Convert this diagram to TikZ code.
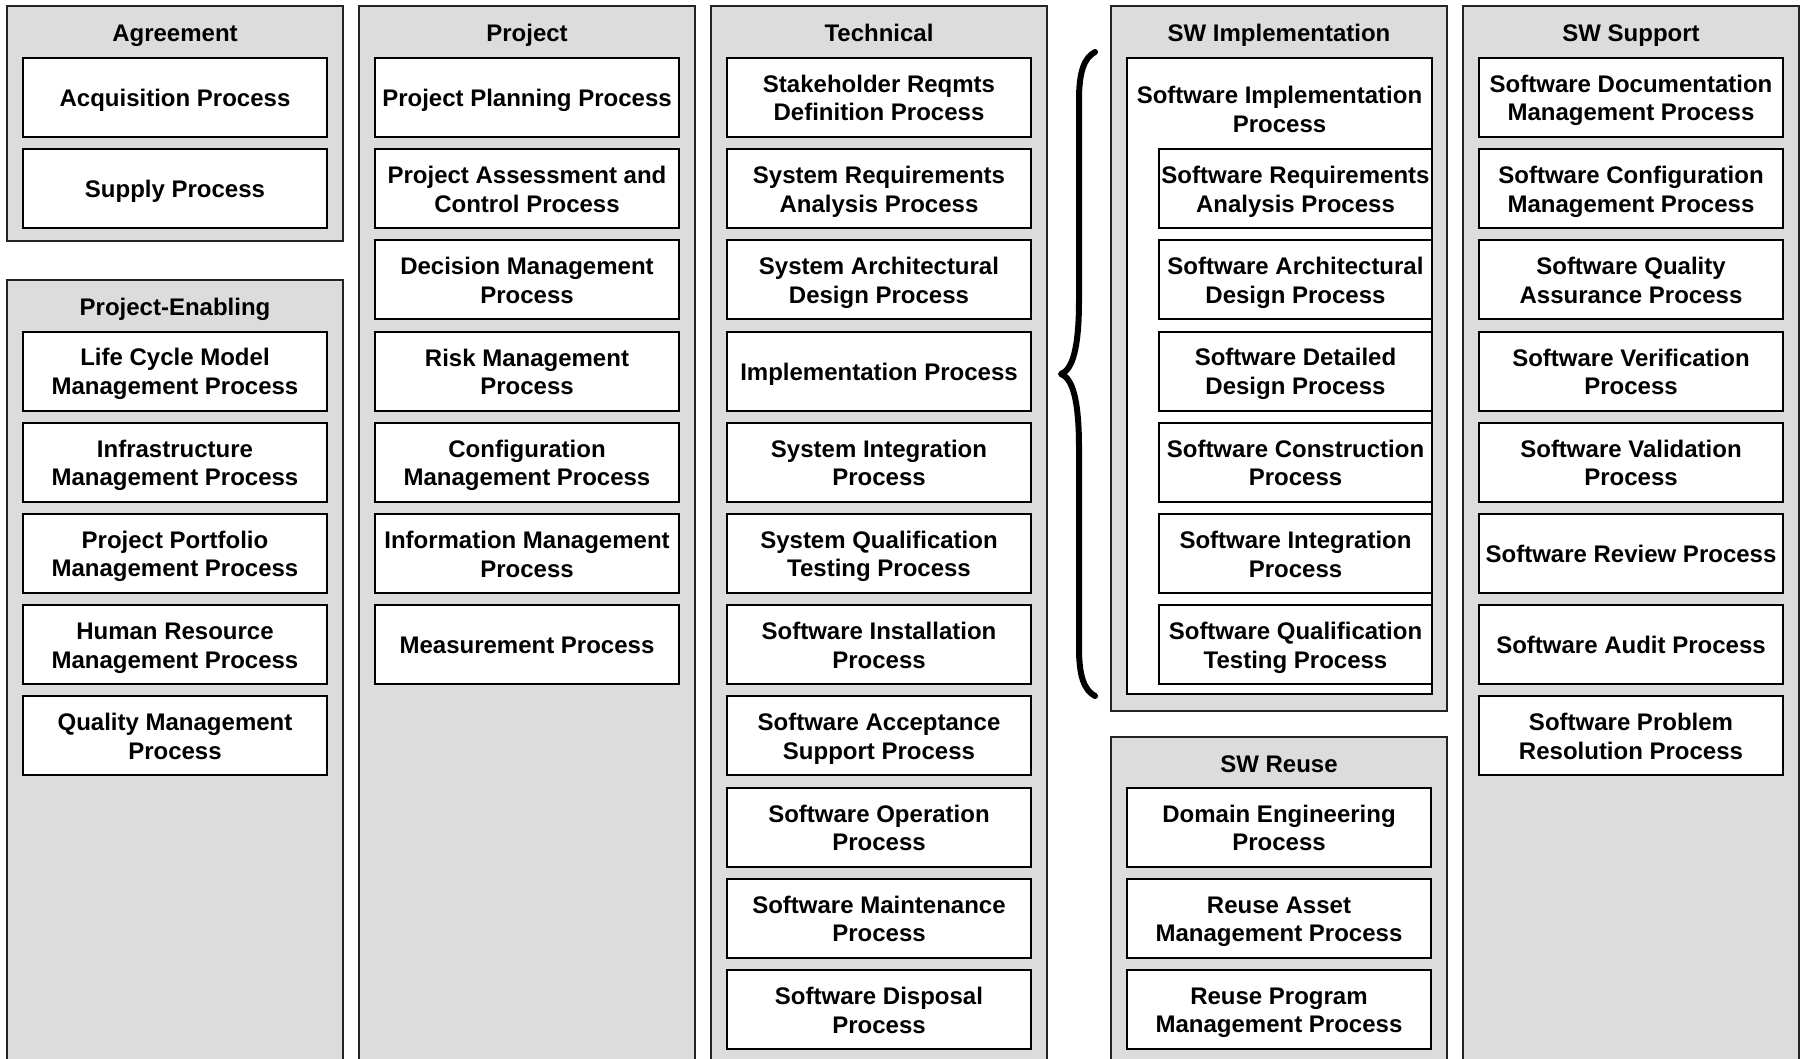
\documentclass[tikz,border=0pt]{standalone}
\usepackage{fontspec}
\setmainfont{Liberation Sans}
\definecolor{panelgray}{RGB}{220,220,220}
\definecolor{edgegray}{RGB}{35,35,35}
\newcommand\procfont{\fontsize{24}{28.6}\selectfont\bfseries}
\newcommand\pstrut{\rule[-5pt]{0pt}{28.4pt}}
\newcommand\pnl{\\\pstrut}
\begin{document}
\begin{tikzpicture}[x=1pt,y=-1pt,
  panel/.style={fill=panelgray,draw=edgegray,line width=2pt},
  proc/.style={draw=black,fill=white,line width=2pt,minimum width=304pt,minimum height=79pt,inner sep=0pt,align=center,font=\procfont},
  subproc/.style={proc,minimum width=273pt},
  ptitle/.style={font=\procfont,inner sep=0pt,align=center},
  bracepath/.style={draw=black,line width=6pt,line cap=round,line join=round}]
\useasboundingbox (0,0) rectangle (1804,1059);
\clip (0,0) rectangle (1804,1059);
% panels
\draw[panel] (7,6) rectangle (343,241);
\draw[panel] (7,280) rectangle (343,1080);
\draw[panel] (359,6) rectangle (695,1080);
\draw[panel] (711,6) rectangle (1047,1080);
\draw[panel] (1111,6) rectangle (1447,711);
\draw[panel] (1111,737) rectangle (1447,1080);
\draw[panel] (1463,6) rectangle (1799,1080);
% titles
\node[ptitle] (tagr) at (175,32) {\pstrut Agreement};
\node[ptitle] (tpen) at (175,306) {\pstrut Project-Enabling};
\node[ptitle] (tprj) at (527,32) {\pstrut Project};
\node[ptitle] (ttec) at (879,32) {\pstrut Technical};
\node[ptitle] (timp) at (1279,32) {\pstrut SW Implementation};
\node[ptitle] (treu) at (1279,763) {\pstrut SW Reuse};
\node[ptitle] (tsup) at (1631,32) {\pstrut SW Support};
% Agreement
\foreach \t [count=\i from 0] in {Acquisition Process, Supply Process}
  \node[proc] (agr\i) at (175,{97.5+91.2*\i}) {\pstrut\t};
% Project-Enabling
\foreach \t [count=\i from 3] in {{Life Cycle Model\pnl Management Process},{Infrastructure\pnl Management Process},{Project Portfolio\pnl Management Process},{Human Resource\pnl Management Process},{Quality Management\pnl Process}}
  \node[proc] (pen\i) at (175,{97.5+91.2*\i}) {\pstrut\t};
% Project
\foreach \t [count=\i from 0] in {{Project Planning Process},{Project Assessment and\pnl Control Process},{Decision Management\pnl Process},{Risk Management\pnl Process},{Configuration\pnl Management Process},{Information Management\pnl Process},{Measurement Process}}
  \node[proc] (prj\i) at (527,{97.5+91.2*\i}) {\pstrut\t};
% Technical
\foreach \t [count=\i from 0] in {{Stakeholder Reqmts\pnl Definition Process},{System Requirements\pnl Analysis Process},{System Architectural\pnl Design Process},{Implementation Process},{System Integration\pnl Process},{System Qualification\pnl Testing Process},{Software Installation\pnl Process},{Software Acceptance\pnl Support Process},{Software Operation\pnl Process},{Software Maintenance\pnl Process},{Software Disposal\pnl Process}}
  \node[proc] (tec\i) at (879,{97.5+91.2*\i}) {\pstrut\t};
% SW Implementation
\node[draw=black,fill=white,line width=2pt,minimum width=305pt,minimum height=636pt,inner sep=0pt] (swout) at (1279.5,376) {};
\node[ptitle] (swimpl) at (1279.5,109) {\pstrut Software Implementation\pnl Process};
\foreach \t [count=\i from 1] in {{Software Requirements\pnl Analysis Process},{Software Architectural\pnl Design Process},{Software Detailed\pnl Design Process},{Software Construction\pnl Process},{Software Integration\pnl Process},{Software Qualification\pnl Testing Process}}
  \node[subproc] (sw\i) at (1295.5,{97.5+91.2*\i}) {\pstrut\t};
% SW Reuse
\foreach \t [count=\i from 8] in {{Domain Engineering\pnl Process},{Reuse Asset\pnl Management Process},{Reuse Program\pnl Management Process}}
  \node[proc] (reu\i) at (1279,{97.5+91.2*\i}) {\pstrut\t};
% SW Support
\foreach \t [count=\i from 0] in {{Software Documentation\pnl Management Process},{Software Configuration\pnl Management Process},{Software Quality\pnl Assurance Process},{Software Verification\pnl Process},{Software Validation\pnl Process},{Software Review Process},{Software Audit Process},{Software Problem\pnl Resolution Process}}
  \node[proc] (sup\i) at (1631,{97.5+91.2*\i}) {\pstrut\t};
% brace
\draw[bracepath] (1095,52) .. controls (1084,58) and (1079,72) .. (1079,100)
  -- (1079,300) .. controls (1079,350) and (1072,370) .. (1061,374)
  .. controls (1072,378) and (1079,398) .. (1079,448)
  -- (1079,648) .. controls (1079,676) and (1084,690) .. (1095,696);
\end{tikzpicture}
\end{document}
